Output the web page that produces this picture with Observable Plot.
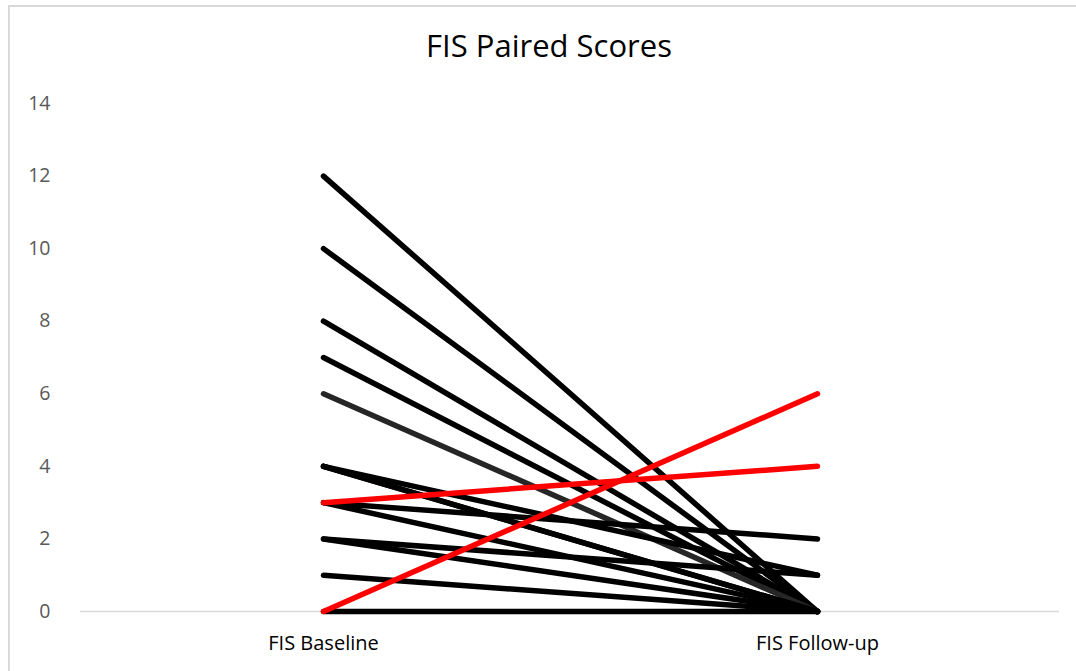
<!DOCTYPE html>
<html>
<head>
<meta charset="utf-8">
<script src="https://cdn.jsdelivr.net/npm/d3@7"></script>
<script src="https://cdn.jsdelivr.net/npm/@observablehq/plot@0.6"></script>
<style>
  html, body { margin: 0; padding: 0; background: #fff; }
  #wrap { position: relative; width: 1076px; height: 671px; overflow: hidden; }
  #frame { position: absolute; left: 8px; top: 5px; width: 1100px; height: 700px;
           border-left: 2px solid #d9d9d9; border-top: 2px solid #d9d9d9; box-sizing: border-box; }
  #title { position: absolute; left: 0; top: 30px; width: 1076px; text-align: center;
           font-family: "Open Sans", sans-serif; font-size: 31px; color: #000; line-height: 1; padding-left: 22px; box-sizing: border-box;}
  #chart { position: absolute; left: 0; top: 0; }
</style>
</head>
<body>
<div id="wrap">
  <div id="frame"></div>
  <div id="chart"></div>
  <div id="title">FIS Paired Scores</div>
</div>
<script>
const timepoints = ["FIS Baseline", "FIS Follow-up"];
const baseline = [12, 10, 8, 7, 6, 4, 4, 4, 3, 3, 2, 2, 1, 0, 3, 0];
const followup = [0, 0, 0, 0, 0, 0, 0, 1, 2, 0, 1, 0, 0, 0, 4, 6];
const yTicks = [0, 2, 4, 6, 8, 10, 12, 14];

const rows = [];
baseline.forEach((b, i) => {
  const f = followup[i];
  const change = f > b ? "increase" : (b === 6 ? "decrease (6)" : "decrease");
  rows.push({id: i, time: timepoints[0], score: b, change});
  rows.push({id: i, time: timepoints[1], score: f, change});
});
const blacks = rows.filter(d => d.change !== "increase");
const reds = rows.filter(d => d.change === "increase");

const chart = Plot.plot({
  width: 1076,
  height: 671,
  marginLeft: 80,
  marginRight: 17,
  marginTop: 103,
  marginBottom: 60,
  style: {fontFamily: "Open Sans, sans-serif", background: "transparent"},
  x: {type: "point", domain: timepoints, padding: 0.489, label: null},
  y: {domain: [0, 14], label: null},
  color: {domain: ["decrease", "increase", "decrease (6)"], range: ["#000000", "#ff0000", "#262626"]},
  marks: [
    Plot.ruleY([0], {stroke: "#d9d9d9", strokeWidth: 1.5}),
    Plot.axisY({ticks: yTicks, tickSize: 0, tickPadding: 30, fontSize: 19.5, color: "#595959", label: null}),
    Plot.axisX({tickSize: 0, tickPadding: 24, fontSize: 20, color: "#000", label: null}),
    Plot.line(blacks, {x: "time", y: "score", z: "id", stroke: "change", strokeWidth: 5.5, strokeLinecap: "round"}),
    Plot.line(reds, {x: "time", y: "score", z: "id", stroke: "change", strokeWidth: 5.5, strokeLinecap: "round"})
  ]
});
document.getElementById("chart").appendChild(chart);
</script>
</body>
</html>
